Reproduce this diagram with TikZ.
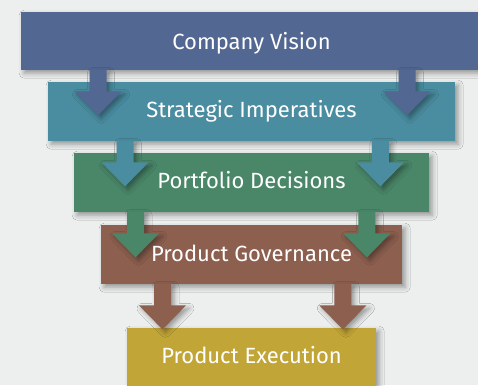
\documentclass[tikz,border=0pt]{standalone}
\usepackage{fontspec}
\setmainfont{Fira Sans}
\usetikzlibrary{shadows.blur,calc}
\definecolor{bg}{HTML}{EDEFEF}
\definecolor{cA}{HTML}{526791}
\definecolor{cB}{HTML}{4A8DA1}
\definecolor{cC}{HTML}{4A8769}
\definecolor{cD}{HTML}{8C5F4F}
\definecolor{cE}{HTML}{C2A537}
\tikzset{
  softshadow/.style={blur shadow={shadow xshift=3pt, shadow yshift=-3pt, shadow blur radius=5pt, shadow opacity=38}},
  lvl/.style={rectangle, fill=#1, draw=none, inner sep=0pt, anchor=north west, softshadow},
  lbl/.style={text=white, font=\fontsize{22}{26}\selectfont, anchor=base, inner sep=0pt},
  pics/dnarrow/.style={code={
    \fill[#1, softshadow] (-8.5,-1) -- (-8.5,21) -- (-23.5,21) -- (0,45) -- (23.5,21) -- (8.5,21) -- (8.5,-1) -- cycle;}}
}
\begin{document}
\begin{tikzpicture}[x=1pt,y=-1pt]
\fill[bg] (0,0) rectangle (478,385);
\useasboundingbox (0,0) rectangle (478,385);
% level boxes, bottom first so each pair of arrows lies over the box below it
\node[lvl=cE, minimum width=249pt, minimum height=62pt] (exec) at (127,328) {};
\node[lvl=cD, minimum width=301pt, minimum height=59pt] (gov) at (101,225) {};
\pic at ($(gov.south west)+(61.5,0)$) {dnarrow=cD};
\pic at ($(gov.south east)+(-59.5,0)$) {dnarrow=cD};
\node[lvl=cC, minimum width=355pt, minimum height=59pt] (port) at (74,153) {};
\pic at ($(port.south west)+(61.5,0)$) {dnarrow=cC};
\pic at ($(port.south east)+(-62.5,0)$) {dnarrow=cC};
\node[lvl=cB, minimum width=407pt, minimum height=59pt] (strat) at (48,82) {};
\pic at ($(strat.south west)+(77,0)$) {dnarrow=cB};
\pic at ($(strat.south east)+(-75,0)$) {dnarrow=cB};
\node[lvl=cA, minimum width=470pt, minimum height=58pt] (vision) at (21,12) {};
\pic at ($(vision.south west)+(77,0)$) {dnarrow=cA};
\pic at ($(vision.south west)+(386,0)$) {dnarrow=cA};
% texts
\node[lbl] (visionT) at (251.5,50) {Company Vision};
\node[lbl] (stratT) at (251.5,117) {Strategic Imperatives};
\node[lbl] (portT) at (251.5,188) {Portfolio Decisions};
\node[lbl] (govT) at (251.5,261) {Product Governance};
\node[lbl] (execT) at (251.5,363) {Product Execution};
\end{tikzpicture}
\end{document}
